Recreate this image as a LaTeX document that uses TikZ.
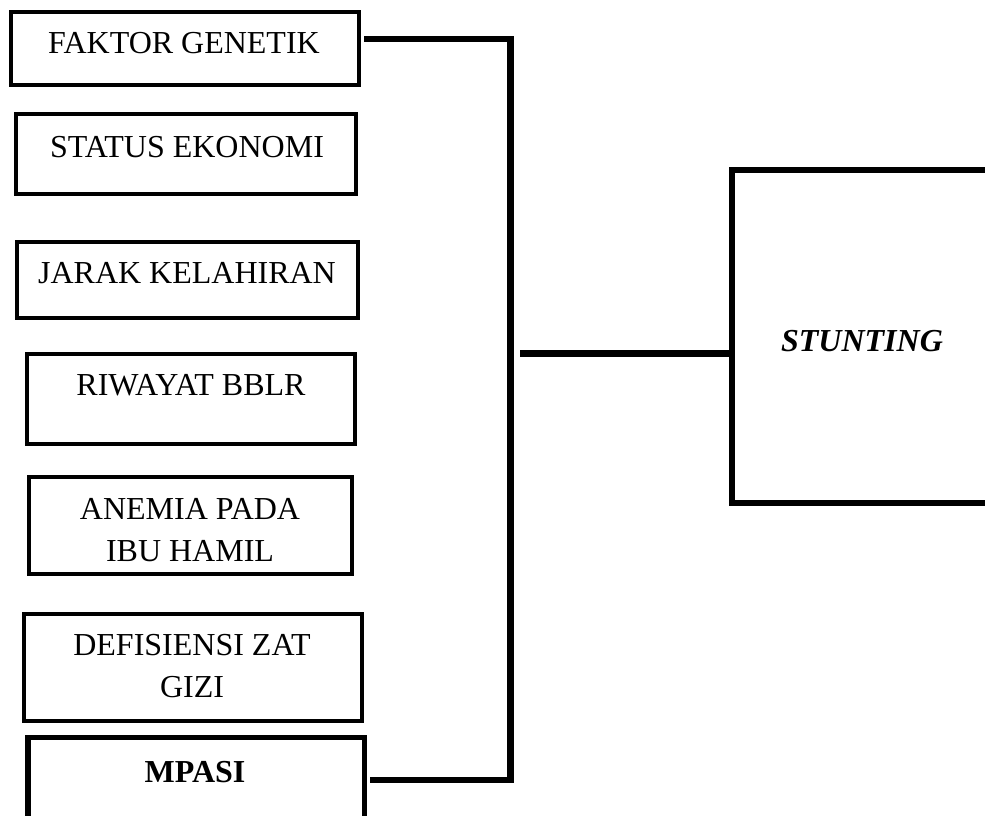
\documentclass[tikz,border=0pt]{standalone}
\usepackage{fontspec}
\setmainfont{Liberation Serif}
\usepackage{tikz}
\usetikzlibrary{calc,fit}
\tikzset{
  kotak/.style={draw, line width=4pt, inner sep=0pt},
  kotaktebal/.style={kotak, line width=5.5pt},
  garis/.style={line width=6.5pt, line join=miter},
  teks/.style={font=\fontsize{32}{42}\selectfont, align=center, anchor=base, inner sep=0pt}
}
\begin{document}
\begin{tikzpicture}[x=1pt, y=-1pt]
  \useasboundingbox (0,0) rectangle (985,816);
  \clip (0,0) rectangle (985,816);
  % faktor-faktor
  \node[kotak, fit={(10.5,12) (358.5,85)}] (genetik) {};
  \node[kotak, fit={(16,114) (356,194)}] (ekonomi) {};
  \node[kotak, fit={(17,242) (358,318)}] (jarak) {};
  \node[kotak, fit={(27,354) (355,444)}] (bblr) {};
  \node[kotak, fit={(29,477) (352,574)}] (anemia) {};
  \node[kotak, fit={(24,614) (362,721)}] (gizi) {};
  \node[kotaktebal, fit={(28,737.5) (364.5,840)}] (mpasi) {};
  \node[teks] (genetik-t) at (184,54) {FAKTOR GENETIK};
  \node[teks] (ekonomi-t) at (187,157) {STATUS EKONOMI};
  \node[teks] (jarak-t) at (187,283) {JARAK KELAHIRAN};
  \node[teks] (bblr-t) at (191,395) {RIWAYAT BBLR};
  \node[teks] (anemia-t) at (190,561) {ANEMIA PADA\\IBU HAMIL};
  \node[teks] (gizi-t) at (192,697) {DEFISIENSI ZAT\\GIZI};
  \node[teks, font=\fontsize{32}{42}\selectfont\bfseries] (mpasi-t) at (195,782) {MPASI};
  % stunting
  \node[kotaktebal, fit={(732,170) (1010,503)}] (stunting) {};
  \node[teks, font=\fontsize{32}{42}\selectfont\bfseries\itshape] (stunting-t) at (862,351) {STUNTING};
  % penghubung
  \coordinate (atas) at (510.5,39);
  \coordinate (bawah) at (510.5,780);
  \coordinate (tengah) at (520,353.5);
  \draw[garis] ($(genetik.east |- atas)+(3.5,0)$) -- (atas) -- (bawah)
    -- ($(mpasi.east |- bawah)+(2.5,0)$);
  \draw[garis] (tengah) -- (tengah -| stunting.west);
\end{tikzpicture}
\end{document}
